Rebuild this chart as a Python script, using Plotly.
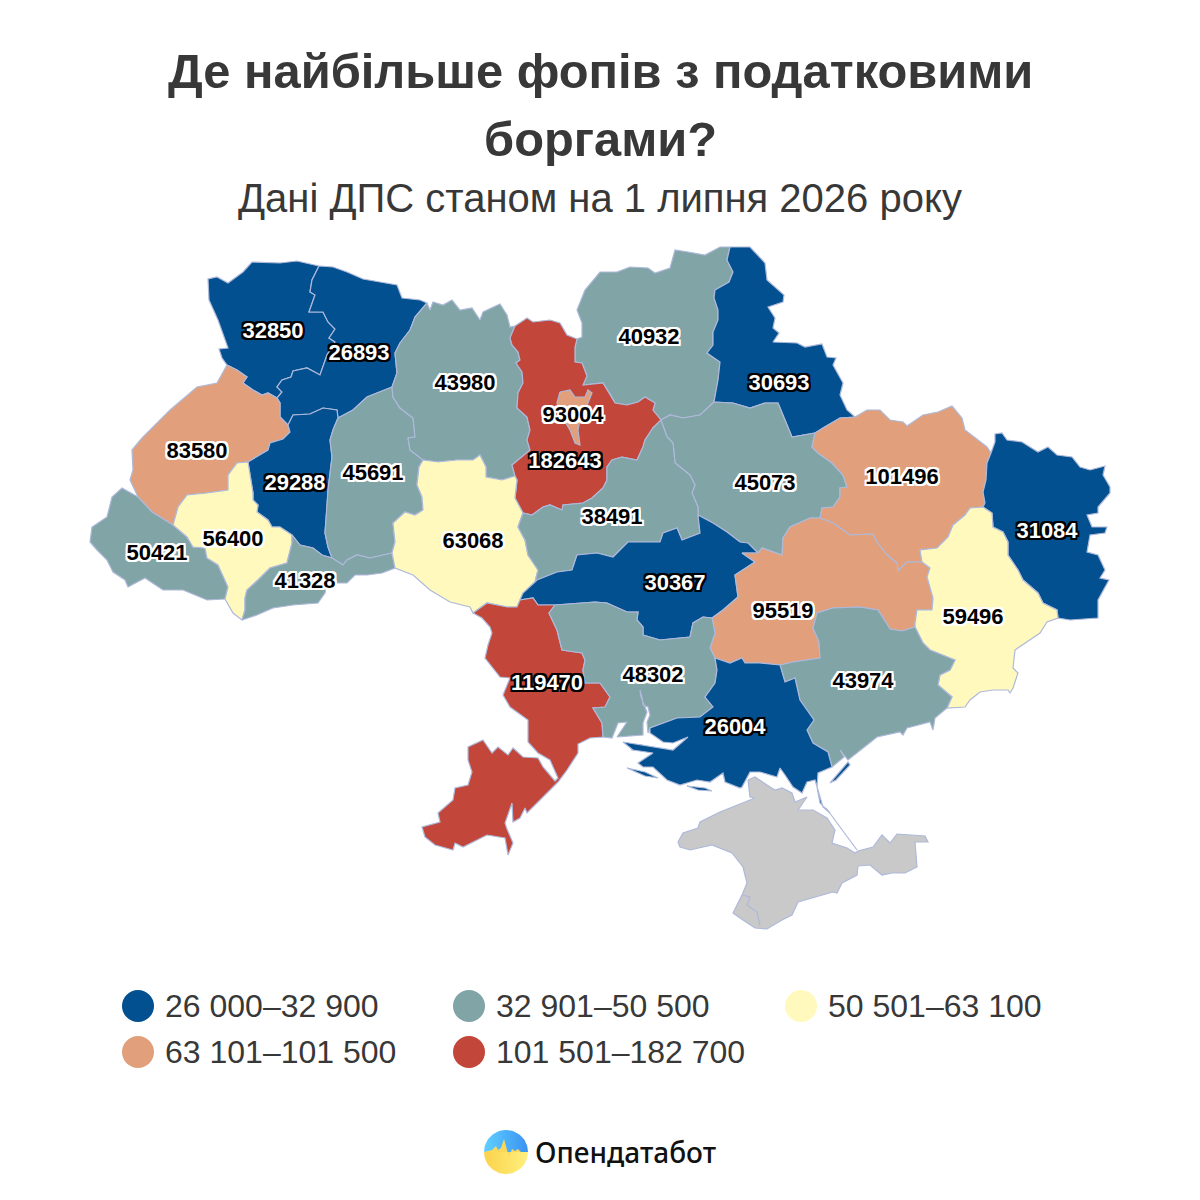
""" Debts of sole proprietors by region, Ukraine: choropleth drawn as filled scatter outlines """
import numpy as np
import plotly.graph_objects as go

# values and labels
regions = ["Волинська", "Рівненська", "Львівська", "Тернопільська", "Хмельницька", "Житомирська",
           "Чернігівська", "Сумська", "м. Київ", "Київська", "Полтавська", "Харківська", "Луганська",
           "Закарпатська", "Івано-Франківська", "Чернівецька", "Вінницька", "Черкаська",
           "Кіровоградська", "Дніпропетровська", "Донецька", "Одеська", "Миколаївська",
           "Запорізька", "Херсонська"]
debtors = [32850, 26893, 83580, 29288, 45691, 43980, 40932, 30693, 93004, 182643, 45073, 101496, 31084,
           50421, 56400, 41328, 63068, 38491, 30367, 95519, 59496, 119470, 48302, 43974, 26004]
label_x = [273, 359, 197, 295, 373, 465, 649, 779, 573, 565, 765, 902, 1047,
           157, 233, 305, 473, 612, 675, 783, 973, 547, 653, 863, 735]
label_y = [332, 354, 452, 484, 474, 384, 338, 384, 416, 462, 484, 478, 532,
           554, 540, 582, 542, 518, 584, 612, 618, 684, 676, 682, 728]

bin_upper = [32900, 50500, 63100, 101500, 182700]
bin_names = ["26 000–32 900", "32 901–50 500", "50 501–63 100", "63 101–101 500", "101 501–182 700"]
bin_colors = ["#02508f", "#81a4a7", "#fff9bd", "#e1a07b", "#c2463a"]
bin_white_text = [True, False, False, False, True]

title_lines = ["Де найбільше фопів з податковими", "боргами?"]
subtitle = "Дані ДПС станом на 1 липня 2026 року"
brand = "Опендатабот"

BORDER = "#aeb9da"
TEXT = "#383838"
FONT = "Liberation Sans"

# shared borders, so neighbouring regions meet exactly
vo_out = [(319,266),(297,261),(280,263),(252,262),(243,272),(228,283),(217,277),(208,279),(209,300),(218,320),(228,348),(219,349),(222,358),(227,365)]
vo_lv = [(227,365),(237,370),(247,377),(243,383),(253,390),(262,395),(268,393),(277,398)]
vo_ri = [(319,266),(312,280),(310,292),(315,295),(309,312),(323,312),(328,322),(335,329),(329,338),(335,342),(327,355),(320,375),(307,368),(293,371),(291,377),(282,380),(277,387),(282,392),(277,398)]
lv_ri = [(277,398),(280,403),(280,417),(288,425)]
ri_out = [(319,266),(333,267),(347,272),(363,279),(380,282),(397,285),(402,298),(420,300),(427,303)]
ri_zh = [(427,303),(415,317),(410,330),(400,343),(395,353),(397,373),(392,387)]
ri_kh = [(392,387),(367,397),(353,410),(338,418)]
ri_te = [(338,418),(337,410),(323,408),(310,414),(293,415),(288,425)]
lv_te = [(288,425),(290,432),(283,439),(270,443),(268,450),(248,462)]
lv_if = [(248,462),(237,463),(228,475),(228,490),(207,493),(187,495),(178,507),(173,525)]
lv_zk = [(173,525),(152,512),(138,497)]
lv_out = [(138,497),(130,480),(133,470),(132,450),(142,438),(153,427),(170,410),(197,387),(217,383),(227,365)]
zk_if = [(173,525),(187,537),(193,547),(205,548),(207,558),(218,565),(228,587),(225,599)]
zk_out = [(225,599),(207,600),(183,590),(163,590),(145,578),(128,587),(125,580),(113,572),(107,560),(97,550),(90,542),(92,527),(107,517),(112,497),(122,488),(138,497)]
te_if = [(248,462),(253,493),(253,500),(258,505),(257,512),(268,520),(272,527),(280,527),(292,535)]
if_ch = [(292,535),(292,543),(287,563),(270,568),(258,580),(247,590),(245,598),(245,610),(242,620)]
if_out = [(242,620),(233,613),(225,599)]
te_ch = [(292,535),(300,545),(313,548),(322,555),(332,558)]
ch_kh = [(332,558),(343,565),(347,560),(357,555),(370,558),(392,553)]
ch_vi = [(392,553),(395,568)]
ch_out = [(395,568),(382,573),(367,575),(355,575),(347,583),(327,583),(325,593),(318,603),(293,605),(273,608),(257,615),(242,620)]
te_kh = [(338,418),(333,430),(330,440),(332,457),(328,490),(327,507),(325,533),(328,547),(332,558)]
kh_zh = [(392,387),(393,397),(400,408),(413,418),(415,437),(408,438),(410,450),(423,460)]
kh_vi = [(423,460),(419,467),(417,485),(422,497),(423,510),(415,515),(405,512),(393,523),(395,542),(392,553)]
zh_out = [(427,303),(430,310),(433,302),(443,305),(452,300),(460,310),(472,308),(480,320),(483,312),(500,304),(507,315),(510,327),(515,326)]
zh_ky = [(515,326),(510,338),(512,345),(518,352),(520,360),(516,363),(522,372),(523,383),(518,393),(517,408),(527,417),(530,430),(527,440),(530,450),(512,465),(515,476)]
zh_vi = [(515,476),(502,480),(486,477),(486,467),(480,455),(473,460),(457,460),(438,462),(423,460)]
vi_ky = [(515,476),(517,480),(515,498),(523,513)]
vi_ce = [(523,513),(518,527),(525,540),(528,555),(538,570),(535,582)]
vi_ki = [(535,582),(523,593),(520,600)]
vi_od = [(520,600),(517,607),(507,607),(487,603),(473,613)]
vi_out = [(473,613),(470,607),(450,602),(443,598),(430,590),(413,575),(395,568)]
ky_out = [(515,326),(527,318),(533,322),(550,320),(560,323),(567,335),(577,339)]
ky_cn = [(577,339),(575,347),(575,362),(582,363),(587,376),(583,385),(603,383),(612,397),(615,403),(627,405),(638,402),(645,397),(655,403),(653,410),(661,420)]
ky_ce = [(661,420),(653,428),(645,440),(643,447),(637,460),(622,457),(612,460),(607,467),(607,480),(603,488),(592,498),(583,503),(563,505),(562,510),(550,505),(543,507),(532,515),(523,513)]
ce_po = [(661,420),(667,437),(673,443),(675,463),(690,475),(695,485),(692,493),(698,507),(698,515)]
ce_ki = [(698,515),(700,533),(682,540),(677,528),(663,533),(660,542),(640,542),(628,542),(613,557),(597,553),(577,555),(572,570),(557,572),(537,580),(535,582)]
cn_out = [(577,339),(582,337),(582,323),(577,310),(585,290),(600,272),(617,272),(630,267),(648,268),(655,273),(670,268),(675,250),(688,252),(705,255),(720,247),(730,247)]
cn_su = [(730,247),(727,260),(733,272),(729,282),(715,290),(714,298),(718,310),(718,320),(713,332),(713,345),(707,353),(720,362),(718,380),(714,402)]
cn_po = [(714,402),(700,415),(683,418),(670,415),(661,420)]
su_out = [(730,247),(750,247),(765,263),(767,280),(784,295),(783,302),(768,307),(775,318),(773,328),(779,333),(773,342),(797,343),(805,347),(822,344),(827,357),(836,358),(833,365),(843,383),(840,395),(847,410),(855,417)]
su_ha = [(855,417),(840,418),(823,428),(815,433)]
su_po = [(815,433),(792,437),(785,420),(778,403),(765,403),(750,408),(733,403),(714,402)]
ha_out = [(855,417),(867,410),(880,410),(890,420),(903,422),(907,426),(923,415),(938,412),(952,406),(962,418),(965,430),(987,447),(991,453)]
ha_lu = [(991,453),(987,463),(986,480),(983,492),(985,503),(983,507)]
ha_do = [(983,507),(970,508),(965,515),(953,525),(948,537),(937,548),(920,550),(922,562)]
ha_dn = [(922,562),(907,562),(898,571),(897,563),(887,555),(877,542),(873,534),(850,535),(833,523),(820,518)]
ha_po = [(820,518),(822,508),(833,507),(840,497),(840,488),(847,487),(843,475),(832,463),(818,453),(812,447),(815,433)]
po_dn = [(820,518),(810,518),(790,527),(783,538),(782,555),(762,548),(758,553)]
po_ki = [(758,553),(748,543),(740,542),(727,532),(713,523),(698,515)]
ki_dn = [(758,553),(742,553),(755,562),(735,575),(738,597),(723,610),(712,618)]
ki_my = [(712,618),(703,617),(693,623),(690,637),(660,640),(643,635),(643,627),(637,620),(638,612),(627,612),(607,603),(595,602),(580,603),(555,605)]
ki_od = [(555,605),(538,605),(533,598),(520,600)]
od_my = [(555,605),(549,613),(557,630),(562,650),(575,652),(582,653),(585,660),(583,670),(585,683),(600,683),(610,697),(605,707),(593,708),(602,723),(603,737)]
od_out = [(603,737),(590,738),(578,744),(578,753),(567,770),(558,782),(537,803),(527,813),(525,808),(520,818),(513,822),(512,803),(505,823),(507,829),(513,843),(508,855),(505,838),(487,835),(463,847),(455,843),(453,850),(435,845),(425,837),(422,827),(440,822),(438,813),(453,800),(455,788),(468,785),(472,772),(468,760),(468,747),(483,740),(492,753),(498,747),(508,755),(513,748),(523,757),(538,758),(543,767),(555,781),(558,778),(550,760),(538,753),(528,742),(528,720),(510,707),(503,695),(510,678),(500,677),(485,658),(488,645),(492,633),(490,627),(482,618),(473,613)]
my_dn = [(712,618),(715,633),(710,648),(715,658)]
my_he = [(715,658),(717,670),(715,683),(705,697),(713,707),(700,717),(677,718),(650,728)]
my_out = [(650,728),(648,733),(647,722),(650,715),(648,707),(643,705),(642,697),(640,690),(641,697),(645,707),(647,712),(643,723),(643,735),(617,737),(627,722),(618,723),(612,738),(603,737)]
he_dn = [(715,658),(730,663),(742,658),(745,663),(760,663),(780,665)]
he_zp = [(780,665),(785,682),(795,678),(800,700),(808,712),(814,720),(807,730),(813,743),(828,752),(832,767)]
he_out = [(832,767),(818,773),(817,787),(820,803),(830,813),(823,807),(815,780),(807,782),(802,793),(793,787),(785,775),(780,768),(777,777),(760,772),(750,772),(742,787),(740,788),(725,782),(723,773),(710,782),(697,780),(680,785),(667,780),(653,767),(643,767),(638,763),(653,753),(633,750),(623,742),(660,748),(673,750),(688,737),(673,743),(663,742),(650,733),(650,728)]
zp_dn = [(780,665),(793,662),(820,658),(819,642),(813,628),(817,613),(833,608),(860,607),(878,610),(890,629),(902,631),(915,627)]
zp_do = [(915,627),(923,643),(930,650),(955,660),(950,670),(940,675),(938,685),(952,697),(947,708)]
zp_out = [(947,708),(935,718),(933,730),(930,722),(907,728),(903,735),(900,732),(877,737),(860,750),(848,760),(840,750),(844,757),(832,767)]
dn_do = [(922,562),(930,568),(927,577),(933,598),(932,610),(917,610),(915,623),(915,627)]
do_lu = [(983,507),(992,513),(993,527),(1003,532),(1008,542),(1008,555),(1018,570),(1023,580),(1038,593),(1043,603),(1057,610),(1058,618)]
do_out = [(1058,618),(1047,622),(1040,633),(1027,642),(1015,650),(1013,668),(1018,673),(1013,688),(1010,693),(1008,690),(993,690),(980,692),(970,700),(965,707),(947,708)]
lu_out = [(991,453),(995,442),(995,434),(1002,433),(1007,440),(1022,442),(1038,452),(1048,447),(1057,455),(1072,457),(1080,467),(1090,470),(1105,466),(1103,475),(1110,487),(1110,493),(1098,507),(1098,513),(1087,515),(1092,527),(1107,527),(1105,533),(1090,535),(1087,552),(1098,555),(1105,570),(1100,578),(1109,580),(1098,600),(1098,618),(1070,620),(1058,618)]
kyiv_city = [(560,392),(570,390),(575,397),(585,397),(588,390),(592,393),(588,403),(585,410),(580,420),(578,430),(580,445),(575,443),(570,430),(562,417),(557,403)]
crimea = [(748,780),(750,797),(755,798),(743,803),(720,812),(700,822),(698,828),(683,833),(678,842),(680,847),(690,850),(712,845),(732,853),(743,867),(747,883),(742,895),(733,913),(743,920),(755,928),(767,929),(782,920),(792,915),(798,902),(833,892),(837,893),(842,883),(857,875),(858,866),(870,865),(882,875),(892,873),(905,873),(917,867),(915,842),(928,842),(925,836),(897,834),(890,843),(882,835),(873,847),(858,851),(855,853),(847,848),(832,843),(835,830),(827,818),(813,810),(798,810),(807,797),(795,802),(792,793),(782,788),(775,790),(770,787),(760,780),(755,777)]
sevastopol_line = [(742,895),(750,897),(747,905),(757,912),(760,926)]
arabat_line = [(826,808),(842,830),(857,850)]
kherson_islands = [[(627,768),(645,772),(658,778),(645,776)], [(687,786),(705,788),(712,791),(698,790)], [(830,783),(848,762),(850,765),(836,780)]]
mykolaiv_spit = [(628,744),(642,745),(642,748),(632,750)]


def rev(arc):
    return arc[::-1]


outlines = {
    "Волинська": vo_out + vo_lv + rev(vo_ri),
    "Рівненська": ri_out + ri_zh + ri_kh + ri_te + rev(lv_ri) + rev(vo_ri)[1:],
    "Львівська": vo_lv + lv_ri + lv_te + lv_if + lv_zk + lv_out,
    "Тернопільська": rev(ri_te) + te_kh + rev(te_ch) + rev(te_if) + rev(lv_te),
    "Хмельницька": rev(ri_kh) + kh_zh + kh_vi + rev(ch_kh) + rev(te_kh),
    "Житомирська": zh_out + zh_ky + zh_vi + rev(kh_zh) + rev(ri_zh),
    "Чернігівська": cn_out + cn_su + cn_po + rev(ky_cn),
    "Сумська": su_out + su_ha + su_po + rev(cn_su),
    "м. Київ": kyiv_city,
    "Київська": ky_out + ky_cn + ky_ce + rev(vi_ky) + rev(zh_ky),
    "Полтавська": rev(su_po) + rev(ha_po) + po_dn + po_ki + rev(ce_po) + rev(cn_po),
    "Харківська": ha_out + ha_lu + ha_do + ha_dn + ha_po + rev(su_ha),
    "Луганська": lu_out + rev(do_lu) + rev(ha_lu),
    "Закарпатська": rev(lv_zk) + zk_if + zk_out,
    "Івано-Франківська": te_if + if_ch + if_out + rev(zk_if) + rev(lv_if),
    "Чернівецька": te_ch + ch_kh + ch_vi + ch_out + rev(if_ch),
    "Вінницька": rev(zh_vi) + vi_ky + vi_ce + vi_ki + vi_od + vi_out + rev(ch_vi) + rev(kh_vi),
    "Черкаська": rev(ky_ce) + ce_po + ce_ki + rev(vi_ce),
    "Кіровоградська": rev(ce_ki) + rev(po_ki) + ki_dn + ki_my + ki_od + rev(vi_ki),
    "Дніпропетровська": rev(ha_dn) + dn_do + rev(zp_dn) + rev(he_dn) + rev(my_dn) + rev(ki_dn) + rev(po_dn),
    "Донецька": rev(ha_do) + do_lu + do_out + rev(zp_do) + rev(dn_do),
    "Одеська": rev(vi_od) + rev(ki_od) + od_my + od_out,
    "Миколаївська": rev(ki_my) + my_dn + my_he + my_out + rev(od_my),
    "Запорізька": zp_dn + zp_do + zp_out + rev(he_zp),
    "Херсонська": he_dn + he_zp + he_out + rev(my_he),
}
extra_rings = {"Херсонська": kherson_islands, "Миколаївська": [mykolaiv_spit]}


def bin_of(value):
    return next(i for i, upper in enumerate(bin_upper) if value <= upper)


def add_area(fig, rings, color):
    """ One filled area, rings split by None """
    xs, ys = [], []
    for ring in rings:
        xs += [p[0] for p in ring] + [ring[0][0], None]
        ys += [p[1] for p in ring] + [ring[0][1], None]
    fig.add_trace(go.Scatter(x=xs, y=ys, mode="lines", fill="toself", fillcolor=color,
                             line=dict(color=BORDER, width=1.2), hoverinfo="skip", showlegend=False))


def halo(color, r=2):
    return ", ".join(f"{dx}px {dy}px 0 {color}" for dx in (-r, 0, r) for dy in (-r, 0, r) if dx or dy)


fig = go.Figure()

# Kyiv city goes after Kyiv oblast so it stays visible on top
draw_order = [r for r in regions if r != "м. Київ"] + ["м. Київ"]
for name in draw_order:
    value = debtors[regions.index(name)]
    add_area(fig, [outlines[name]] + extra_rings.get(name, []), bin_colors[bin_of(value)])
add_area(fig, [crimea], "#c9c9c9")
for extra_line in (sevastopol_line, arabat_line):
    fig.add_trace(go.Scatter(x=[p[0] for p in extra_line], y=[p[1] for p in extra_line], mode="lines",
                             line=dict(color=BORDER, width=1.2), hoverinfo="skip", showlegend=False))

# value labels: white on the dark classes, black on the rest
for white in (True, False):
    picked = [i for i, v in enumerate(debtors) if bin_white_text[bin_of(v)] == white]
    fig.add_trace(go.Scatter(
        x=[label_x[i] for i in picked], y=[label_y[i] for i in picked],
        text=[str(debtors[i]) for i in picked], mode="text", textposition="middle center",
        textfont=dict(family=FONT, size=22, weight="bold", color="#ffffff" if white else "#000000",
                      shadow=halo("#000000" if white else "#ffffff")),
        hoverinfo="skip", showlegend=False))

# legend laid out as a grid of three columns
legend_x = [138, 469, 801]
legend_y = [1006, 1052]
annotations = []
for i, name in enumerate(bin_names):
    col, row = i % 3, i // 3
    fig.add_trace(go.Scatter(x=[legend_x[col]], y=[legend_y[row]], mode="markers", hoverinfo="skip",
                             marker=dict(size=32, color=bin_colors[i], line_width=0), showlegend=False))
    annotations.append(dict(x=legend_x[col] + 25, y=legend_y[row], text=name, xanchor="left", yanchor="middle",
                            showarrow=False, font=dict(family=FONT, size=32, color=TEXT)))

# headline
for text, y in zip(title_lines, [71, 139]):
    annotations.append(dict(x=600, y=y, text=f"<b>{text}</b>", xanchor="center", yanchor="middle",
                            showarrow=False, font=dict(family=FONT, size=48.8, color=TEXT)))
annotations.append(dict(x=600, y=198, text=subtitle, xanchor="center", yanchor="middle",
                        showarrow=False, font=dict(family=FONT, size=40, color=TEXT)))
annotations.append(dict(x=533, y=1152, text=brand, xanchor="left", yanchor="middle", showarrow=False,
                        font=dict(family="Noto Sans", size=28, weight=500, color="#111111")))

# logo: blue sky, yellow field, pulse between them
angle = np.linspace(0, np.pi, 40)
logo_x, logo_y, logo_r = 506, 1152, 22
fig.add_trace(go.Scatter(x=logo_x + logo_r * np.cos(angle), y=logo_y - logo_r * np.sin(angle), mode="lines",
                         fill="toself", line_width=0, hoverinfo="skip", showlegend=False,
                         fillgradient=dict(type="horizontal", colorscale=[[0, "#5fd0ff"], [1, "#3a92f2"]])))
fig.add_trace(go.Scatter(x=logo_x + logo_r * np.cos(angle), y=logo_y + logo_r * np.sin(angle), mode="lines",
                         fill="toself", line_width=0, hoverinfo="skip", showlegend=False,
                         fillgradient=dict(type="horizontal", colorscale=[[0, "#fbd24a"], [1, "#fff07f"]])))
pulse = [(484,1152),(492,1150),(496,1146),(498,1150),(501,1148),(504,1139),(507,1150),(509,1157),(512,1149),(515,1151),(518,1149),(521,1152),(528,1152)]
fig.add_trace(go.Scatter(x=[p[0] for p in pulse], y=[p[1] for p in pulse], mode="lines", fill="toself",
                         fillcolor="#fbd85a", line_width=0, hoverinfo="skip", showlegend=False))

# page body has 8px margin, so the axes run in screen pixels from 8 on
fig.update_layout(
    width=1184, height=1184, margin=dict(l=0, r=0, t=0, b=0),
    paper_bgcolor="white", plot_bgcolor="white", showlegend=False,
    xaxis=dict(range=[8, 1192], visible=False),
    yaxis=dict(range=[1192, 8], visible=False),
    annotations=annotations,
)

fig.write_html("out.html")
